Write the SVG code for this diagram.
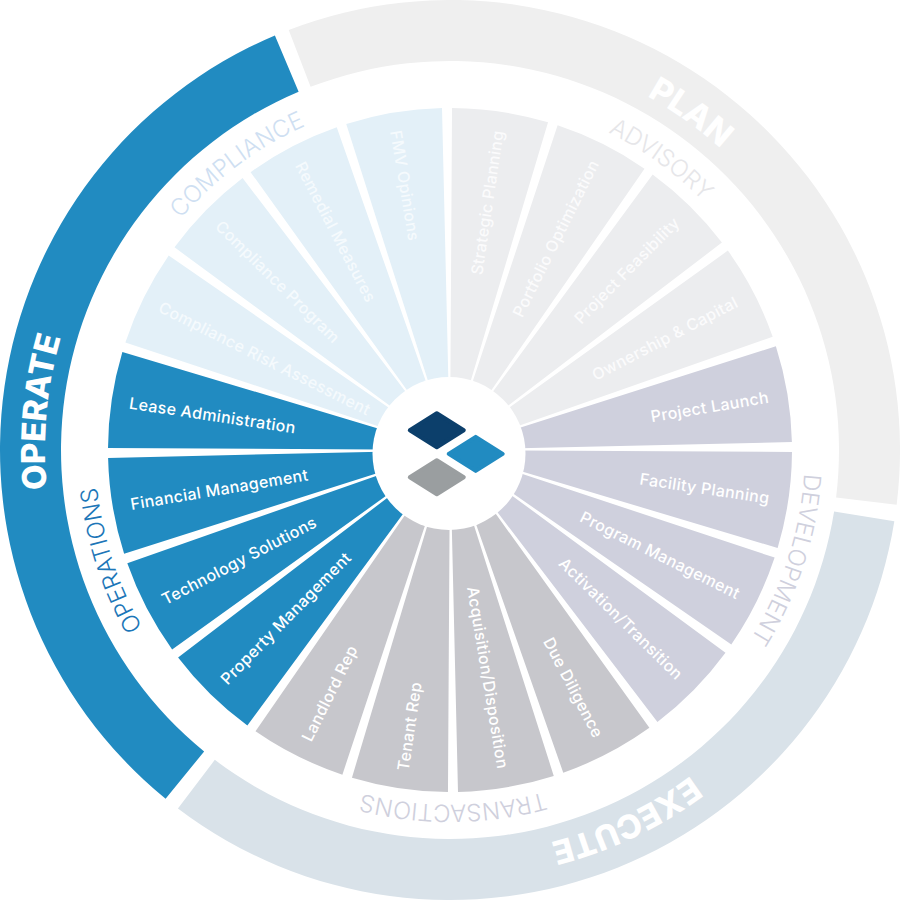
<svg xmlns="http://www.w3.org/2000/svg" width="900" height="900" viewBox="0 0 900 900">
<style>
text{font-family:Inter,"Open Sans","Liberation Sans",sans-serif}
.l{font-size:16px;font-weight:500;letter-spacing:.35px;fill:#fff}
.e{text-anchor:end}
.adv{fill:#ecedef}.adv text{fill:#fbfbfc}
.com{fill:#e3f0f8}.com text{fill:#f5fafd}
.dev{fill:#cfd0dd}
.tra{fill:#c7c7cc}
.ope{fill:#218bc1}
.band{font-size:23.8px;font-weight:300;text-anchor:middle}
.big{font-size:33px;font-weight:800;text-anchor:middle;fill:#fff}
</style>
<defs>
<path id="seg" d="M455.01 108.04A342 342 0 0 1 550.9 123.23L470.65 383.12A70 70 0 0 0 451.03 380.01Z"/>
<path id="p355" d="M95 450A355 355 0 0 1 805 450"/>
<path id="p405" d="M45 450A405 405 0 0 1 855 450"/>
<polygon id="dia" points="-27,0 0,-17 27,0 0,17" stroke-width="4" stroke-linejoin="round"/>
</defs>
<g id="plan">
<path d="M288.73 29.89A450 450 0 0 1 896.65 504.84L836.1 497.41A389 389 0 0 0 310.59 86.84Z" fill="#efefef"/>
<text class="big" transform="rotate(35.5 450 450)"><textPath href="#p405" startOffset="50%">PLAN</textPath></text>
</g>
<g id="execute">
<path d="M894.33 521.17A450 450 0 0 1 177.93 808.44L214.81 759.85A389 389 0 0 0 834.1 511.52Z" fill="#d9e2e9"/>
<text class="big" transform="rotate(154.6 450 450)"><textPath href="#p405" startOffset="50%">EXECUTE</textPath></text>
</g>
<g id="operate">
<path d="M165.59 798.72A450 450 0 0 1 274.9 35.46L298.63 91.66A389 389 0 0 0 204.14 751.45Z" fill="#218bc1"/>
<text class="big" transform="rotate(275.3 450 450)"><textPath href="#p405" startOffset="50%">OPERATE</textPath></text>
</g>
<g id="advisory" class="adv">
<g id="strategic-planning"><use href="#seg" transform="rotate(-0.5 450 450)"/><text class="l e" transform="rotate(-81.5 450 450)" x="773" y="456">Strategic Planning</text></g>
<g id="portfolio-optimization"><use href="#seg" transform="rotate(17.5 450 450)"/><text class="l e" transform="rotate(-63.5 450 450)" x="773" y="456">Portfolio Optimization</text></g>
<g id="project-feasibility"><use href="#seg" transform="rotate(35.5 450 450)"/><text class="l e" transform="rotate(-45.5 450 450)" x="773" y="456">Project Feasibility</text></g>
<g id="ownership-capital"><use href="#seg" transform="rotate(53.5 450 450)"/><text class="l e" transform="rotate(-27.5 450 450)" x="773" y="456">Ownership &amp; Capital</text></g>
<text class="band" transform="rotate(36 450 450)" style="fill:#e6e6e9"><textPath href="#p355" startOffset="50%">ADVISORY</textPath></text>
</g>
<g id="development" class="dev">
<g id="project-launch"><use href="#seg" transform="rotate(71.5 450 450)"/><text class="l e" transform="rotate(-9.5 450 450)" x="773" y="456">Project Launch</text></g>
<g id="facility-planning"><use href="#seg" transform="rotate(89.5 450 450)"/><text class="l e" transform="rotate(8.5 450 450)" x="773" y="456">Facility Planning</text></g>
<g id="program-management"><use href="#seg" transform="rotate(107.5 450 450)"/><text class="l e" transform="rotate(26.5 450 450)" x="773" y="456">Program Management</text></g>
<g id="activation-transition"><use href="#seg" transform="rotate(125.5 450 450)"/><text class="l e" transform="rotate(44.5 450 450)" x="773" y="456">Activation/Transition</text></g>
<text class="band" transform="rotate(108 450 450)"><textPath href="#p355" startOffset="50%">DEVELOPMENT</textPath></text>
</g>
<g id="transactions" class="tra">
<g id="due-diligence"><use href="#seg" transform="rotate(143.5 450 450)"/><text class="l e" transform="rotate(62.5 450 450)" x="773" y="456">Due Diligence</text></g>
<g id="acquisition-disposition"><use href="#seg" transform="rotate(161.5 450 450)"/><text class="l e" transform="rotate(80.5 450 450)" x="773" y="456">Acquisition/Disposition</text></g>
<g id="tenant-rep"><use href="#seg" transform="rotate(179.5 450 450)"/><text class="l" transform="rotate(278.5 450 450)" x="126" y="456.5">Tenant Rep</text></g>
<g id="landlord-rep"><use href="#seg" transform="rotate(197.5 450 450)"/><text class="l" transform="rotate(296.5 450 450)" x="126" y="456.5">Landlord Rep</text></g>
<text class="band" transform="rotate(179.5 450 450)" style="fill:#cfd0dd"><textPath href="#p355" startOffset="50%">TRANSACTIONS</textPath></text>
</g>
<g id="operations" class="ope">
<g id="property-management"><use href="#seg" transform="rotate(215.5 450 450)"/><text class="l" transform="rotate(314.5 450 450)" x="126" y="456.5">Property Management</text></g>
<g id="technology-solutions"><use href="#seg" transform="rotate(233.5 450 450)"/><text class="l" transform="rotate(332.5 450 450)" x="126" y="456.5">Technology Solutions</text></g>
<g id="financial-management"><use href="#seg" transform="rotate(251.5 450 450)"/><text class="l" transform="rotate(350.5 450 450)" x="126" y="456.5">Financial Management</text></g>
<g id="lease-administration"><use href="#seg" transform="rotate(269.5 450 450)"/><text class="l" transform="rotate(8.5 450 450)" x="126" y="456.5">Lease Administration</text></g>
<text class="band" transform="rotate(252 450 450)" style="fill:#1c76b8"><textPath href="#p355" startOffset="50%">OPERATIONS</textPath></text>
</g>
<g id="compliance" class="com">
<g id="compliance-risk-assessment"><use href="#seg" transform="rotate(287.5 450 450)"/><text class="l" transform="rotate(26.5 450 450)" x="126" y="456.5">Compliance Risk Assessment</text></g>
<g id="compliance-program"><use href="#seg" transform="rotate(305.5 450 450)"/><text class="l" transform="rotate(44.5 450 450)" x="126" y="456.5">Compliance Program</text></g>
<g id="remedial-measures"><use href="#seg" transform="rotate(323.5 450 450)"/><text class="l" transform="rotate(62.5 450 450)" x="126" y="456.5">Remedial Measures</text></g>
<g id="fmv-opinions"><use href="#seg" transform="rotate(341.5 450 450)"/><text class="l" transform="rotate(80.5 450 450)" x="126" y="456.5">FMV Opinions</text></g>
<text class="band" transform="rotate(323.3 450 450)" style="fill:#cfdff2"><textPath href="#p355" startOffset="50%">COMPLIANCE</textPath></text>
</g>
<g id="logo">
<circle cx="449" cy="453.5" r="76.5" fill="#fff"/>
<use href="#dia" transform="translate(436.8 430.3)" fill="#0c3f6b" stroke="#0c3f6b"/>
<use href="#dia" transform="translate(475.7 453.9)" fill="#218bc1" stroke="#218bc1"/>
<use href="#dia" transform="translate(436.8 477.2)" fill="#9a9ea0" stroke="#9a9ea0"/>
</g>
</svg>
